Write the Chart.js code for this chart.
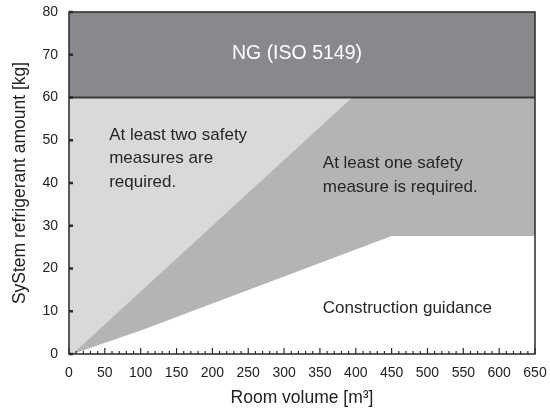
<!DOCTYPE html>
<html>
<head>
<meta charset="utf-8">
<script src="https://cdn.jsdelivr.net/npm/chart.js@4"></script>
<style>
  html, body { margin: 0; padding: 0; background: #fff; }
  #wrap { width: 550px; height: 413px; }
</style>
</head>
<body>
<div id="wrap"><canvas id="chart" width="550" height="413"></canvas></div>
<script>
// Region boundaries (room volume m3 -> refrigerant kg)
const ngBand = [{ x: 0, y: 80 }, { x: 650, y: 80 }];
const ngLimit = 60;
const practicalLimit = [{ x: 0, y: 60 }, { x: 650, y: 60 }];
const twoMeasuresLine = [{ x: 5, y: 0 }, { x: 395, y: 60 }, { x: 650, y: 60 }];
const guidanceLine = [{ x: 5, y: 0 }, { x: 100, y: 5.5 }, { x: 450, y: 27.6 }, { x: 650, y: 27.6 }];

const xTicks = [0, 50, 100, 150, 200, 250, 300, 350, 400, 450, 500, 550, 600, 650];
const yTicks = [0, 10, 20, 30, 40, 50, 60, 70, 80];

// Region labels: text lines, x value, y value of first line
const regionLabels = [
  { lines: ['NG (ISO 5149)'], x: 318, y: 70.3, align: 'center', color: '#ffffff', size: 19.5 },
  { lines: ['At least two safety', 'measures are', 'required.'], x: 56, y: 51.2, align: 'left', color: '#262626', size: 17 },
  { lines: ['At least one safety', 'measure is required.'], x: 354, y: 44.6, align: 'left', color: '#262626', size: 17 },
  { lines: ['Construction guidance'], x: 354, y: 10.7, align: 'left', color: '#262626', size: 17 }
];

const fontFamily = '"Liberation Sans", Arial, sans-serif';

const framePlugin = {
  id: 'frame',
  afterDatasetsDraw(chart) {
    const { ctx, chartArea: a, scales } = chart;
    const xs = scales.x, ys = scales.y;
    ctx.save();
    // NG limit line
    ctx.strokeStyle = '#3a3a3c';
    ctx.lineWidth = 2;
    ctx.beginPath();
    ctx.moveTo(a.left, ys.getPixelForValue(ngLimit));
    ctx.lineTo(a.right, ys.getPixelForValue(ngLimit));
    ctx.stroke();
    // box
    ctx.strokeStyle = '#2a2a2a';
    ctx.lineWidth = 1.5;
    ctx.strokeRect(a.left, a.top, a.right - a.left, a.bottom - a.top);
    // inner ticks on x
    ctx.lineWidth = 1.2;
    for (let v = 0; v <= 650; v += 10) {
      const px = xs.getPixelForValue(v);
      const len = v % 50 === 0 ? 6 : 3;
      ctx.beginPath();
      ctx.moveTo(px, a.bottom);
      ctx.lineTo(px, a.bottom - len);
      ctx.stroke();
    }
    // inner ticks on y
    ctx.lineWidth = 2.5;
    yTicks.forEach(v => {
      const py = ys.getPixelForValue(v);
      ctx.beginPath();
      ctx.moveTo(a.left, py);
      ctx.lineTo(a.left + 4, py);
      ctx.stroke();
    });
    // labels
    regionLabels.forEach(l => {
      ctx.font = l.size + 'px ' + fontFamily;
      ctx.fillStyle = l.color;
      ctx.textAlign = l.align;
      ctx.textBaseline = 'middle';
      const px = xs.getPixelForValue(l.x);
      const py = ys.getPixelForValue(l.y);
      l.lines.forEach((t, i) => ctx.fillText(t, px, py + i * 23.5));
    });
    ctx.restore();
  }
};

const common = { showLine: true, pointRadius: 0, borderWidth: 0, tension: 0 };

const noOverflow = s => { s.paddingTop = 0; s.paddingBottom = 0; s.paddingLeft = 0; s.paddingRight = 0; };

new Chart(document.getElementById('chart'), {
  type: 'scatter',
  data: {
    datasets: [
      { ...common, data: guidanceLine, backgroundColor: '#ffffff', fill: 'origin', order: 1 },
      { ...common, data: twoMeasuresLine, backgroundColor: '#b3b4b6', fill: 'origin', order: 2 },
      { ...common, data: practicalLimit, backgroundColor: '#d8d9db', fill: 'origin', order: 3 },
      { ...common, data: ngBand, backgroundColor: '#88898d', fill: { value: ngLimit }, order: 4 }
    ]
  },
  options: {
    responsive: false,
    animation: false,
    layout: { padding: { top: 12, right: 15, left: 0, bottom: 0 } },
    plugins: { legend: { display: false }, tooltip: { enabled: false } },
    scales: {
      x: {
        type: 'linear', min: 0, max: 650,
        afterBuildTicks: s => { s.ticks = xTicks.map(v => ({ value: v })); },
        afterFit: s => { s.height = 59; noOverflow(s); },
        grid: { display: false, drawTicks: false },
        border: { display: false },
        ticks: { padding: 11, color: '#222', font: { family: fontFamily, size: 14 }, maxRotation: 0 },
        title: { display: true, text: 'Room volume [m³]', color: '#222', padding: { top: 10 }, font: { family: fontFamily, size: 17.5 } }
      },
      y: {
        type: 'linear', min: 0, max: 80,
        afterBuildTicks: s => { s.ticks = yTicks.map(v => ({ value: v })); },
        afterFit: s => { s.width = 69; noOverflow(s); },
        grid: { display: false, drawTicks: false },
        border: { display: false },
        ticks: { padding: 11, color: '#222', font: { family: fontFamily, size: 14 } },
        title: { display: true, text: 'SyStem refrigerant amount [kg]', color: '#222', padding: { top: 10, bottom: 4 }, font: { family: fontFamily, size: 17.5 } }
      }
    }
  },
  plugins: [framePlugin]
});
</script>
</body>
</html>
